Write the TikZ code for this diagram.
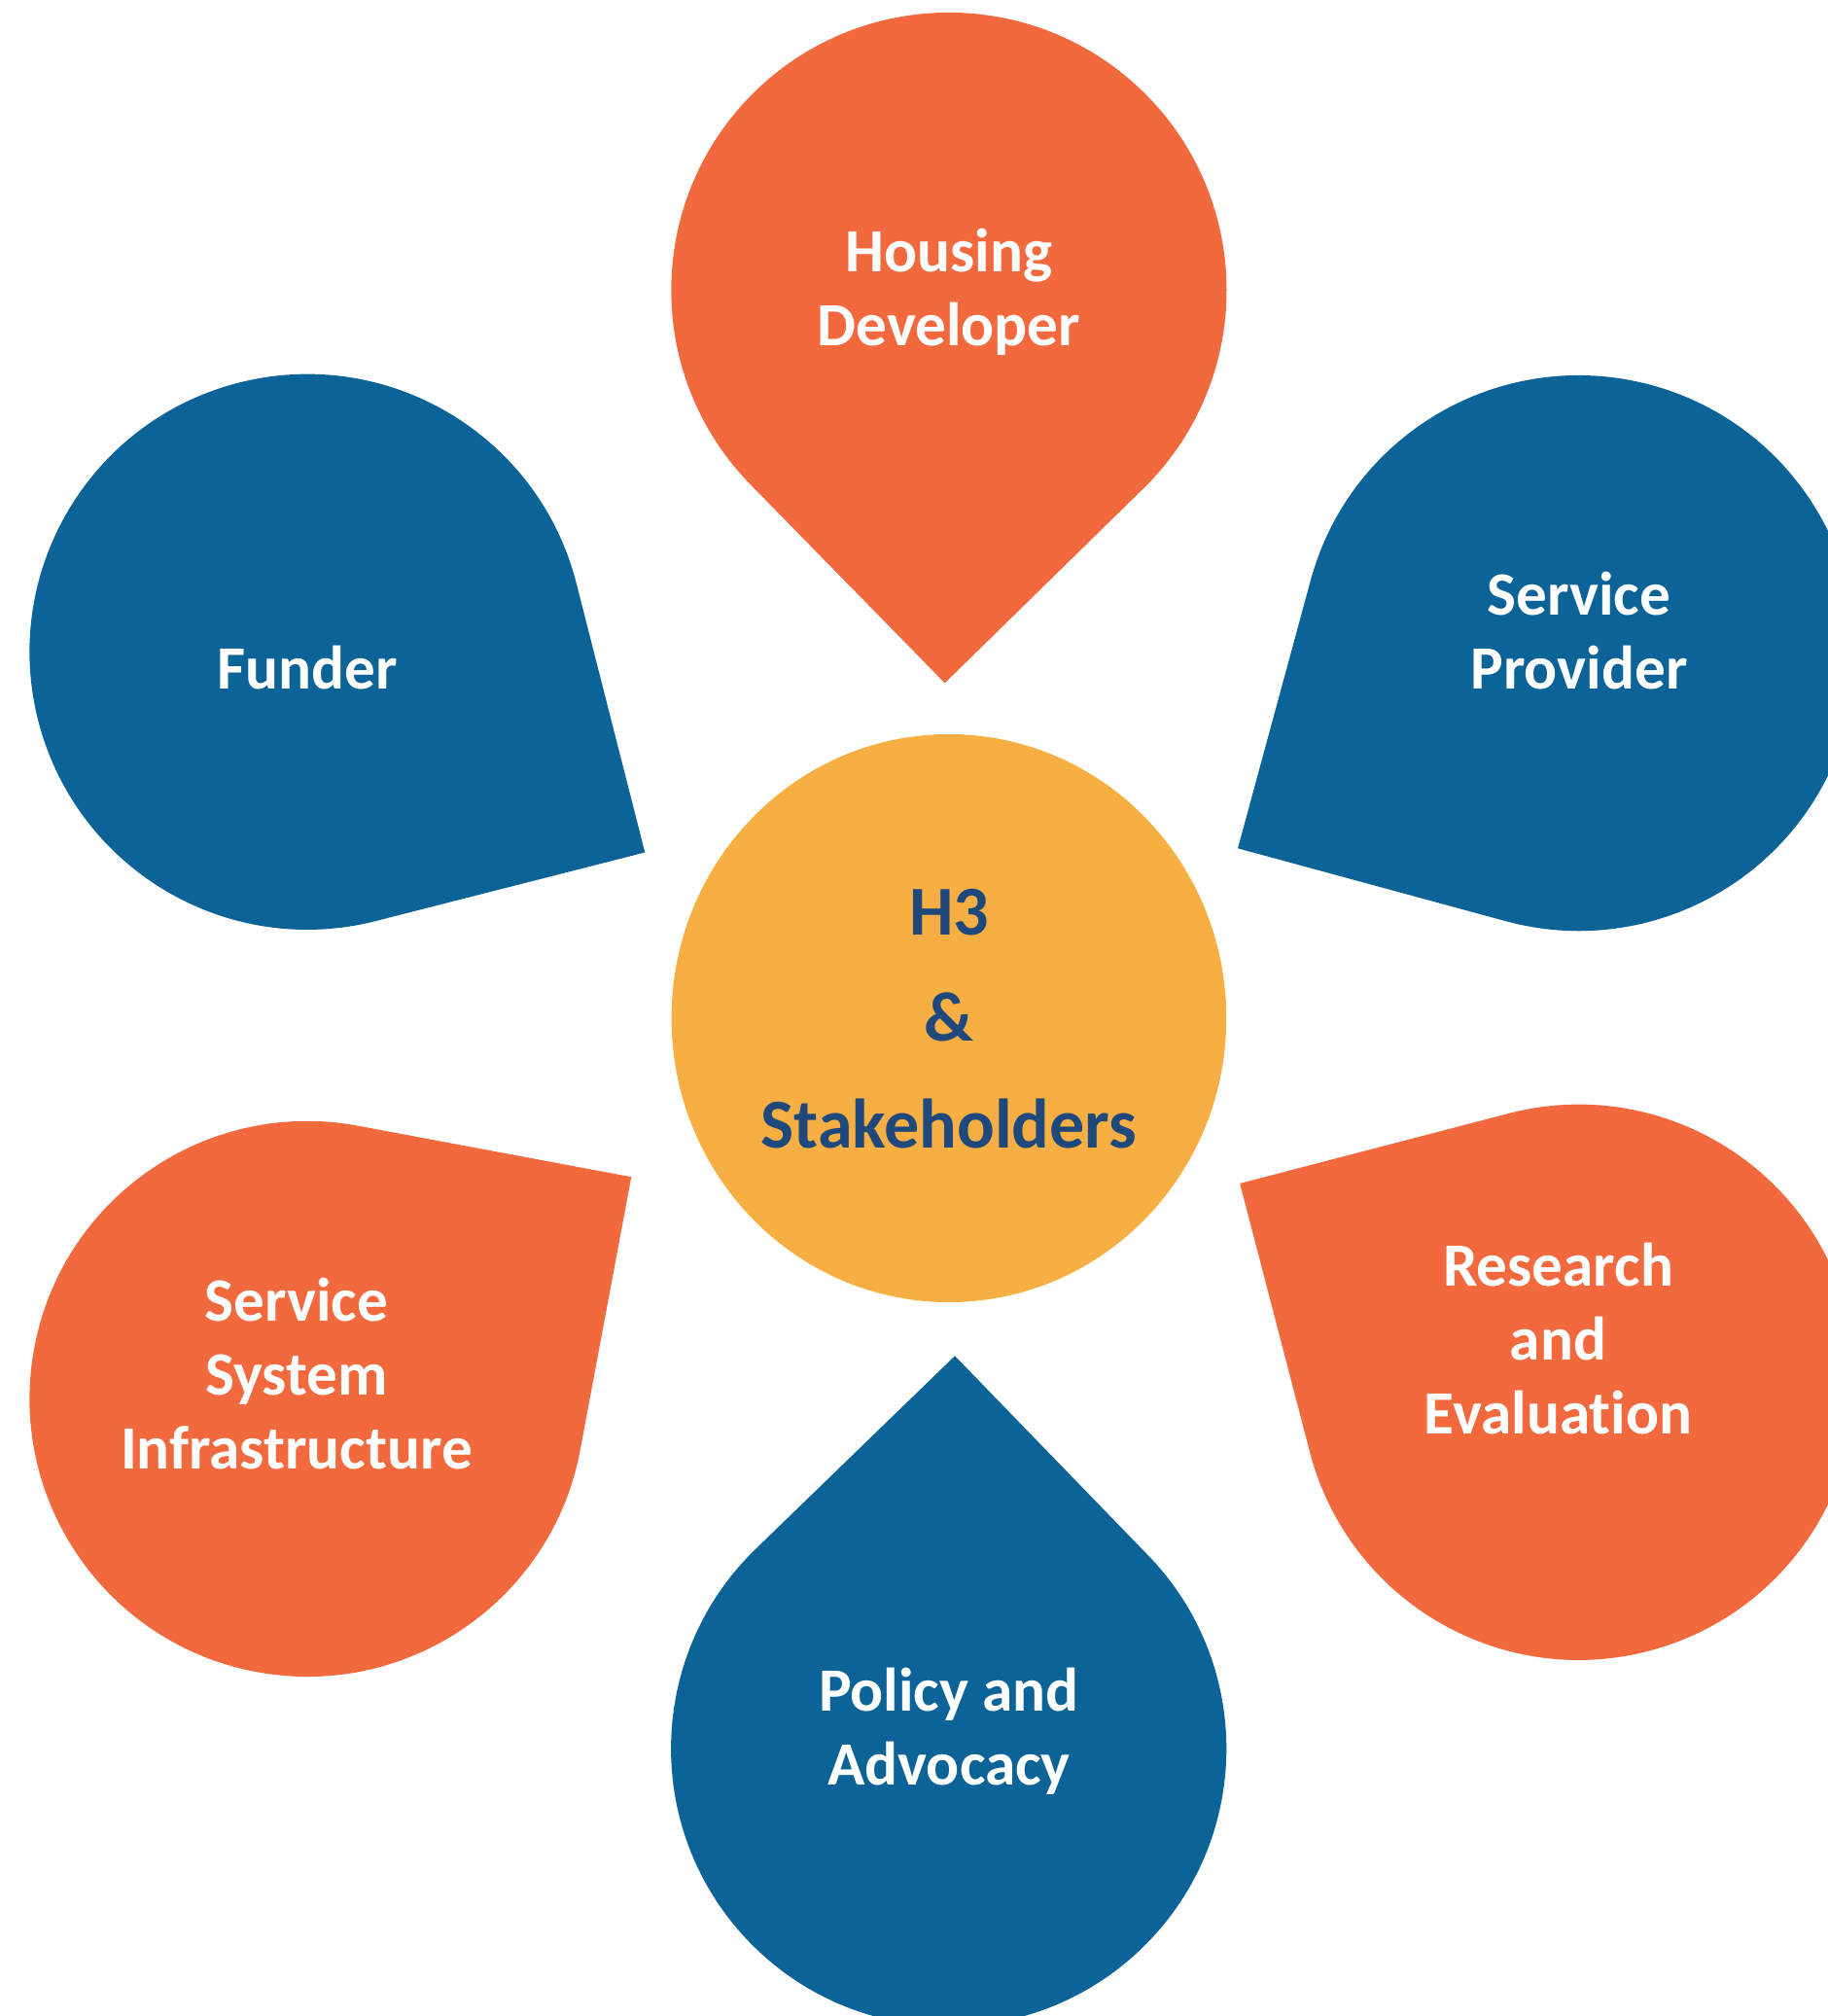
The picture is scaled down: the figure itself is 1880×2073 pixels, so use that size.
\documentclass[tikz,border=0pt]{standalone}
\usepackage{fontspec}
\setmainfont{Carlito}[Ligatures=NoCommon]
\definecolor{orng}{HTML}{F2693E}
\definecolor{blu}{HTML}{0C6398}
\definecolor{yel}{HTML}{F7AF43}
\definecolor{navy}{HTML}{1F497D}
\tikzset{
  drop/.pic={\fill[pic actions] (403.9,0) -- (45:285.6) arc[start angle=45,end angle=315,radius=285.6] -- cycle;},
  lbl/.style={text=white, font=\bfseries\fontsize{18}{21.6}\selectfont, align=center, inner sep=0pt},
  hublbl/.style={text=navy, font=\bfseries\fontsize{20.5}{31.2}\selectfont, align=center, inner sep=0pt}
}
\begin{document}
\begin{tikzpicture}[x=0.01cm,y=-0.01cm]
\useasboundingbox (0,0) rectangle (1880,2073);
\clip (0,0) rectangle (1880,2073);
% petals
\pic[fill=orng, rotate=-90.6] (hdrop) at (975.9,298.5) {drop};
\pic[fill=blu, rotate=-30.7] (fdrop) at (316,670.3) {drop};
\pic[fill=blu, rotate=-150.2] (spdrop) at (1623.5,671.6) {drop};
\pic[fill=orng, rotate=149.6] (redrop) at (1623.5,1421.3) {drop};
\pic[fill=orng, rotate=34.4] (ssidrop) at (316,1438.4) {drop};
\pic[fill=blu, rotate=89.1] (padrop) at (975.7,1798.1) {drop};
% hub
\fill[yel] (975.9,1047) ellipse [x radius=285.3, y radius=292];
% labels
\node[lbl] (housing) at (976,300) {Housing\\Developer};
\node[lbl] (funder) at (316,687) {Funder};
\node[lbl] (provider) at (1624,648.5) {Service\\Provider};
\node[lbl] (research) at (1602.5,1376.5) {Research\\and\\Evaluation};
\node[lbl] (ssi) at (305,1412.5) {Service\\System\\Infrastructure};
\node[lbl] (policy) at (976,1780.5) {Policy and\\Advocacy};
\node[hublbl] (hub) at (976,1047.5) {H3\\\&\\Stakeholders};
\end{tikzpicture}
\end{document}
